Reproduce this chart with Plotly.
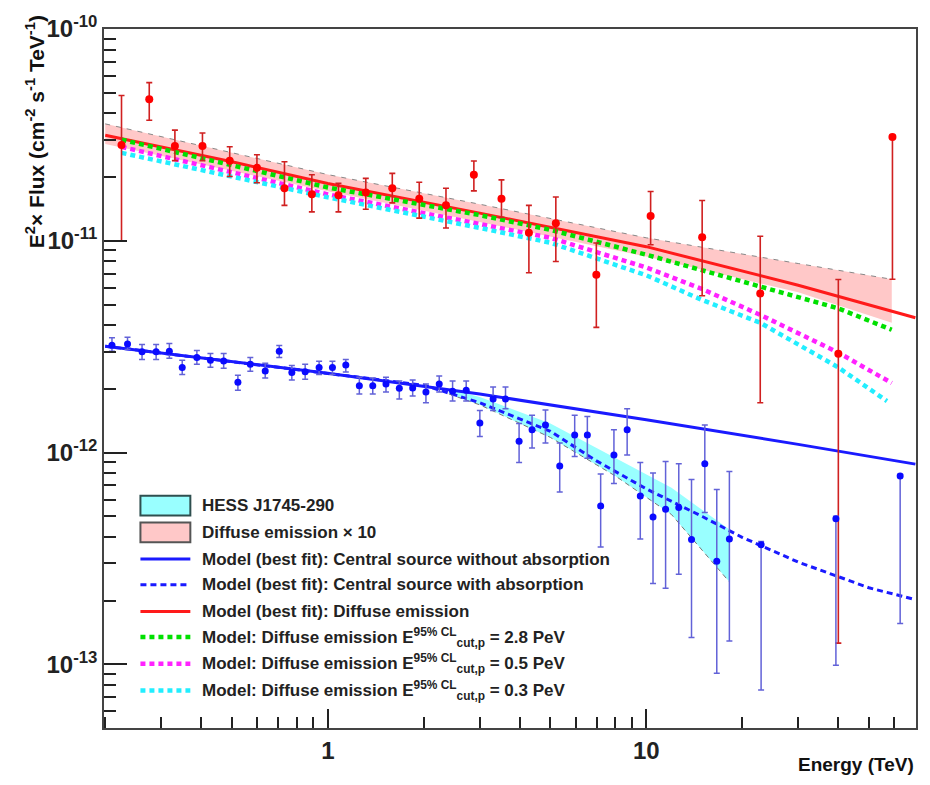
import plotly.graph_objects as go

# ---------------- data ----------------
# Central source (HESS J1745-290) spectral points, E^2 x flux in units of 1e-12
src_E = [0.210, 0.235, 0.261, 0.289, 0.318, 0.349, 0.388, 0.428, 0.471, 0.522,
         0.571, 0.636, 0.704, 0.771, 0.849, 0.939, 1.034, 1.139, 1.256, 1.384,
         1.523, 1.677, 1.847, 2.033, 2.238, 2.465, 2.720, 3.002, 3.304, 3.614,
         3.987, 4.379, 4.825, 5.349, 5.960, 6.531, 7.191, 7.915, 8.709, 9.577,
         10.50, 11.50, 12.65, 13.87, 15.27, 16.65, 18.24, 22.94, 39.4, 62.7]
src_F = [3.21, 3.26, 2.99, 2.99, 3.01, 2.52, 2.81, 2.73, 2.71, 2.15,
         2.61, 2.43, 3.01, 2.39, 2.41, 2.52, 2.52, 2.59, 2.07, 2.07,
         2.11, 2.01, 2.02, 1.93, 2.11, 1.95, 1.97, 1.38, 1.79, 1.79,
         1.13, 1.28, 1.35, 0.863, 1.21, 1.21, 0.560, 0.975, 1.28, 0.623,
         0.496, 0.540, 0.550, 0.389, 0.885, 0.307, 0.391, 0.367, 0.487, 0.775]
src_lo = [3.01, 3.07, 2.75, 2.75, 2.79, 2.34, 2.61, 2.53, 2.50, 1.97,
          2.42, 2.25, 2.81, 2.20, 2.22, 2.34, 2.34, 2.40, 1.89, 1.89,
          1.93, 1.79, 1.85, 1.72, 1.93, 1.75, 1.75, 1.19, 1.58, 1.61,
          0.898, 1.05, 1.11, 0.651, 0.958, 0.941, 0.358, 0.714, 0.975, 0.391,
          0.241, 0.229, 0.266, 0.134, 0.521, 0.0907, 0.129, 0.0757, 0.0990, 0.156]
src_hi = [3.48, 3.50, 3.24, 3.24, 3.27, 2.73, 3.03, 2.94, 2.94, 2.32,
          2.81, 2.64, 3.20, 2.58, 2.61, 2.70, 2.70, 2.75, 2.27, 2.25,
          2.27, 2.18, 2.20, 2.11, 2.30, 2.18, 2.18, 1.58, 2.04, 2.04,
          1.37, 1.50, 1.59, 1.11, 1.50, 1.48, 0.792, 1.28, 1.61, 0.898,
          0.801, 0.908, 0.885, 0.747, 1.35, 0.669, 0.815, 0.380, 0.500, 0.790]

# Diffuse emission (x10) spectral points, E^2 x flux in units of 1e-11
dif_E = [0.225, 0.275, 0.331, 0.404, 0.492, 0.599, 0.731, 0.891, 1.08, 1.316,
         1.594, 1.937, 2.35, 2.875, 3.51, 4.28, 5.20, 6.97, 10.32, 14.98,
         22.8, 40.1, 59.3]
dif_F = [2.83, 4.66, 2.80, 2.80, 2.39, 2.21, 1.77, 1.66, 1.64, 1.69,
         1.77, 1.58, 1.47, 2.05, 1.58, 1.09, 1.21, 0.692, 1.31, 1.04,
         0.564, 0.293, 3.09]
dif_lo = [1.00, 3.71, 2.39, 2.39, 2.01, 1.88, 1.47, 1.37, 1.37, 1.41,
          1.51, 1.28, 1.15, 1.72, 1.29, 0.707, 0.798, 0.390, 0.958, 0.550,
          0.172, 0.0126, 0.658]
dif_hi = [4.85, 5.58, 3.33, 3.23, 2.78, 2.55, 2.36, 2.05, 1.87, 1.97,
          2.08, 1.89, 1.77, 2.38, 1.94, 1.47, 1.61, 0.976, 1.71, 1.55,
          1.05, 0.656, 3.15]

# HESS J1745-290 spectral band (units 1e-12)
band_src_E = [2.4, 3.0, 5.0, 8.0, 12.0, 18.2]
band_src_hi = [1.995, 1.831, 1.370, 0.941, 0.682, 0.434]
band_src_lo = [1.891, 1.680, 1.179, 0.775, 0.510, 0.246]

# Diffuse emission x10 band (units 1e-11)
band_dif_E = [0.2, 1.0, 3.0, 10.0, 30.0, 59.0]
band_dif_hi = [3.565, 2.054, 1.488, 1.033, 0.781, 0.658]
band_dif_lo = [2.866, 1.712, 1.227, 0.842, 0.572, 0.410]

# Best-fit models, central source (units 1e-12)
cs_noabs_E = [0.2, 1.0, 3.0, 10.0, 30.0, 70.0]
cs_noabs_F = [3.18, 2.37, 1.89, 1.43, 1.093, 0.882]
cs_abs_E = [0.2, 1.0, 2.0, 3.0, 5.0, 7.0, 10.0, 15.0, 20.0, 30.0, 50.0, 70.0]
cs_abs_F = [3.18, 2.37, 2.08, 1.72, 1.26, 0.911, 0.674, 0.499, 0.398, 0.304, 0.230, 0.202]

# Best-fit model, diffuse emission (units 1e-11)
dif_fit_E = [0.2, 0.5, 1.0, 3.0, 10.0, 30.0, 70.0]
dif_fit_F = [3.148, 2.362, 1.865, 1.351, 0.938, 0.617, 0.433]

# Diffuse emission models with proton cut-off energies (units 1e-11)
cut_E = [0.225, 1.0, 3.0, 5.0, 10.0, 22.8, 40.0, 59.0]
cut28_F = [3.002, 1.786, 1.322, 1.126, 0.860, 0.606, 0.480, 0.380]
cut_mE = [0.225, 1.0, 3.0, 5.0, 10.0, 15.0, 22.8, 40.0, 59.0]
cut05_F = [2.776, 1.657, 1.200, 1.033, 0.748, 0.591, 0.447, 0.297, 0.213]
cut_cE = [0.225, 1.0, 3.0, 5.0, 10.0, 15.0, 22.8, 40.0, 57.0]
cut03_F = [2.602, 1.604, 1.150, 0.979, 0.687, 0.525, 0.410, 0.253, 0.175]

legend_labels = [
    "HESS J1745-290",
    "Diffuse emission \u00d7 10",
    "Model (best fit): Central source without absorption",
    "Model (best fit): Central source with absorption",
    "Model (best fit): Diffuse emission",
    "Model: Diffuse emission E<sup>95% CL</sup><sub>cut,p</sub> = 2.8 PeV",
    "Model: Diffuse emission E<sup>95% CL</sup><sub>cut,p</sub> = 0.5 PeV",
    "Model: Diffuse emission E<sup>95% CL</sup><sub>cut,p</sub> = 0.3 PeV",
]

x_ticks = [1, 10]
y_ticks = [1e-13, 1e-12, 1e-11, 1e-10]
y_ticktext = ["10<sup>-13</sup>", "10<sup>-12</sup>", "10<sup>-11</sup>", "10<sup>-10</sup>"]

# ---------------- styles ----------------
C_CYAN_BAND, C_PINK_BAND = "#99ffff", "#ffc8c8"
C_BLUE, C_RED = "#1a1aff", "#ff1a1a"
C_GREEN, C_MAGENTA, C_CYAN = "#00e000", "#ff22ff", "#22eeff"
DOT = "5px,4px"
S12, S11 = 1e-12, 1e-11


def sc(arr, s):
    return [v * s for v in arr]


fig = go.Figure()

# shaded bands
fig.add_trace(go.Scatter(
    x=band_src_E + band_src_E[::-1],
    y=sc(band_src_hi, S12) + sc(band_src_lo, S12)[::-1],
    fill="toself", fillcolor=C_CYAN_BAND, mode="lines",
    line=dict(width=0, color=C_CYAN_BAND), hoverinfo="skip"))
fig.add_trace(go.Scatter(
    x=band_dif_E + band_dif_E[::-1],
    y=sc(band_dif_hi, S11) + sc(band_dif_lo, S11)[::-1],
    fill="toself", fillcolor=C_PINK_BAND, mode="lines",
    line=dict(width=0, color=C_PINK_BAND), hoverinfo="skip"))

# faint dashed band edges
fig.add_trace(go.Scatter(x=band_dif_E, y=sc(band_dif_hi, S11), mode="lines",
                         line=dict(color="#888888", width=1, dash="5px,6px"),
                         hoverinfo="skip"))
fig.add_trace(go.Scatter(x=band_src_E, y=sc(band_src_lo, S12), mode="lines",
                         line=dict(color="#777777", width=1, dash="5px,4px"),
                         hoverinfo="skip"))

# model curves
fig.add_trace(go.Scatter(x=cs_noabs_E, y=sc(cs_noabs_F, S12), mode="lines",
                         line=dict(color=C_BLUE, width=3)))
fig.add_trace(go.Scatter(x=cs_abs_E, y=sc(cs_abs_F, S12), mode="lines",
                         line=dict(color=C_BLUE, width=3, dash="6px,4px")))
fig.add_trace(go.Scatter(x=dif_fit_E, y=sc(dif_fit_F, S11), mode="lines",
                         line=dict(color=C_RED, width=3)))
fig.add_trace(go.Scatter(x=cut_E, y=sc(cut28_F, S11), mode="lines",
                         line=dict(color=C_GREEN, width=4.5, dash=DOT)))
fig.add_trace(go.Scatter(x=cut_mE, y=sc(cut05_F, S11), mode="lines",
                         line=dict(color=C_MAGENTA, width=4.5, dash=DOT)))
fig.add_trace(go.Scatter(x=cut_cE, y=sc(cut03_F, S11), mode="lines",
                         line=dict(color=C_CYAN, width=4.5, dash=DOT)))

# data points
fig.add_trace(go.Scatter(
    x=dif_E, y=sc(dif_F, S11), mode="markers",
    marker=dict(color="#ff0000", size=8),
    error_y=dict(type="data", symmetric=False,
                 array=[(h - v) * S11 for h, v in zip(dif_hi, dif_F)],
                 arrayminus=[(v - l) * S11 for v, l in zip(dif_F, dif_lo)],
                 color="#d02020", thickness=1.6, width=3)))
fig.add_trace(go.Scatter(
    x=src_E, y=sc(src_F, S12), mode="markers",
    marker=dict(color="#0a0aff", size=7),
    error_y=dict(type="data", symmetric=False,
                 array=[(h - v) * S12 for h, v in zip(src_hi, src_F)],
                 arrayminus=[(v - l) * S12 for v, l in zip(src_F, src_lo)],
                 color="#6262d8", thickness=1.5, width=3)))

# ---------------- legend (drawn in paper coordinates) ----------------
PLOT_L, PLOT_R, PLOT_T, PLOT_B = 103.5, 917.0, 20.7, 728.0


def px_x(p):
    return (p - PLOT_L) / (PLOT_R - PLOT_L)


def px_y(p):
    return (PLOT_B - p) / (PLOT_B - PLOT_T)


row_y = [503, 530, 557, 583, 610, 636, 663, 690]
sym_x0, sym_x1, text_x = 140, 190, 200
swatches = [
    ("box", C_CYAN_BAND, "#2f4f4f", None),
    ("box", C_PINK_BAND, "#555555", None),
    ("line", C_BLUE, None, "solid"),
    ("line", C_BLUE, None, "6px,4px"),
    ("line", C_RED, None, "solid"),
    ("line", C_GREEN, None, DOT),
    ("line", C_MAGENTA, None, DOT),
    ("line", C_CYAN, None, DOT),
]
shapes, annots = [], []
for yy, label, (kind, col, edge, dash) in zip(row_y, legend_labels, swatches):
    if kind == "box":
        shapes.append(dict(type="rect", xref="paper", yref="paper",
                           x0=px_x(sym_x0), x1=px_x(sym_x1),
                           y0=px_y(yy + 10), y1=px_y(yy - 10),
                           fillcolor=col, line=dict(color=edge, width=2)))
    else:
        w = 3 if dash in ("solid", "6px,4px") else 4.5
        shapes.append(dict(type="line", xref="paper", yref="paper",
                           x0=px_x(sym_x0), x1=px_x(sym_x1),
                           y0=px_y(yy), y1=px_y(yy),
                           line=dict(color=col, width=w, dash=dash)))
    annots.append(dict(text=label, xref="paper", yref="paper",
                       x=px_x(text_x), y=px_y(yy), xanchor="left", yanchor="middle",
                       showarrow=False, font=dict(size=17, weight="bold", color="#222222")))

annots += [
    dict(text="E<sup>2</sup>\u00d7 Flux (cm<sup>-2</sup> s<sup>-1</sup> TeV<sup>-1</sup>)",
         textangle=-90, xref="paper", yref="paper",
         x=-0.084, y=1.023, xanchor="center", yanchor="top", showarrow=False,
         font=dict(size=21, weight="bold", color="#111")),
    dict(text="Energy (TeV)", xref="paper", yref="paper",
         x=1.0, y=-0.035, xanchor="right", yanchor="top", showarrow=False,
         font=dict(size=19, weight="bold", color="#111")),
]

fig.update_layout(
    width=930, height=785,
    margin=dict(l=PLOT_L, r=930 - PLOT_R, t=PLOT_T, b=785 - PLOT_B),
    paper_bgcolor="white", plot_bgcolor="white",
    font=dict(family="Liberation Sans, Arial, sans-serif", color="#111111"),
    showlegend=False,
    xaxis=dict(type="log", range=[-0.7028, 1.847],
               tickvals=x_ticks, ticktext=[str(v) for v in x_ticks],
               ticks="inside", ticklen=19, tickwidth=1.5, tickcolor="#222",
               minor=dict(ticks="inside", ticklen=11, tickwidth=1.5, tickcolor="#222", dtick="D1"),
               showgrid=False, zeroline=False,
               showline=True, mirror=True, linecolor="#444", linewidth=1.5,
               tickfont=dict(size=24, weight="bold", color="#222")),
    yaxis=dict(type="log", range=[-13.3005, -10.0],
               tickvals=y_ticks, ticktext=y_ticktext,
               ticks="inside", ticklen=23, tickwidth=1.5, tickcolor="#222",
               minor=dict(ticks="inside", ticklen=12, tickwidth=1.5, tickcolor="#222", dtick="D1"),
               showgrid=False, zeroline=False,
               showline=True, mirror=True, linecolor="#444", linewidth=1.5,
               tickfont=dict(size=24, weight="bold", color="#222")),
    shapes=shapes,
    annotations=annots,
)

fig.write_html("out.html")
